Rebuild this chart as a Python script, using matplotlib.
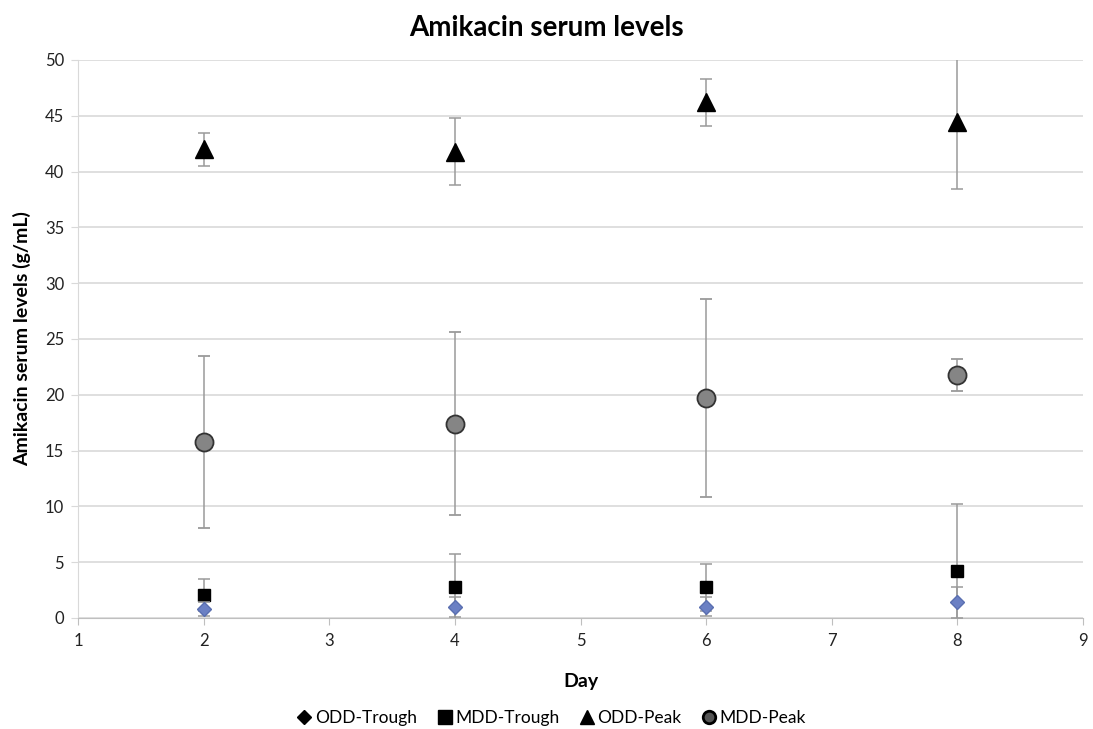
import matplotlib.pyplot as plt
from matplotlib.lines import Line2D

plt.rcParams['font.family'] = ['Lato', 'DejaVu Sans']

# Data
days = [2, 4, 6, 8]

odd_trough = [0.8, 0.95, 1.0, 1.4]
odd_trough_err = [0.6, 0.9, 0.85, 1.4]

mdd_trough = [2.05, 2.75, 2.75, 4.2]
mdd_trough_err = [1.45, 3.0, 2.1, 6.0]

odd_peak = [42.0, 41.8, 46.2, 44.4]
odd_peak_err = [1.5, 3.0, 2.1, 6.0]

mdd_peak = [15.8, 17.4, 19.7, 21.8]
mdd_peak_err = [7.7, 8.2, 8.9, 1.45]

labels = ['ODD-Trough', 'MDD-Trough', 'ODD-Peak', 'MDD-Peak']

fig = plt.figure(figsize=(10.93, 7.29), dpi=100)
ax = fig.add_axes([0.0714, 0.1523, 0.9195, 0.7654])

err_kw = dict(ecolor='#9a9a9a', elinewidth=1.1, capsize=4, capthick=1.1, linestyle='none')

ax.errorbar(days, mdd_peak, yerr=mdd_peak_err, marker='o', markersize=13,
            markerfacecolor='#858585', markeredgecolor='#333333', markeredgewidth=1.3,
            zorder=3, **err_kw)
ax.errorbar(days, odd_peak, yerr=odd_peak_err, marker='^', markersize=13,
            color='black', zorder=3, **err_kw)
ax.errorbar(days, mdd_trough, yerr=mdd_trough_err, marker='s', markersize=9,
            color='black', zorder=3, **err_kw)
ax.errorbar(days, odd_trough, yerr=odd_trough_err, marker='D', markersize=7,
            markerfacecolor='#6b80c4', markeredgecolor='#5a6fb0', zorder=4, **err_kw)

ax.set_xlim(1, 9)
ax.set_ylim(0, 50)
ax.set_xticks(range(1, 10))
ax.set_yticks(range(0, 51, 5))
ax.yaxis.grid(True, color='#d9d9d9', linewidth=1.2)
ax.set_axisbelow(True)

for s in ['top', 'right']:
    ax.spines[s].set_visible(False)
ax.spines['left'].set_color('#d9d9d9')
ax.spines['bottom'].set_color('#bfbfbf')
ax.tick_params(axis='y', length=5, color='#d9d9d9', labelsize=12, pad=5,
               labelcolor='#222222')
ax.tick_params(axis='x', length=5, color='#bfbfbf', labelsize=12, pad=6,
               labelcolor='#222222')

fig.text(0.5, 1 - 28 / 729, 'Amikacin serum levels', fontsize=20, fontweight='bold',
         ha='center', va='center')
ax.set_xlabel('Day', fontsize=14, fontweight='bold', labelpad=17)
ax.set_ylabel('Amikacin serum levels (g/mL)', fontsize=14, fontweight='bold', labelpad=10)

handles = [
    Line2D([], [], marker='D', color='black', linestyle='none', markersize=7),
    Line2D([], [], marker='s', color='black', linestyle='none', markersize=10),
    Line2D([], [], marker='^', color='black', linestyle='none', markersize=10),
    Line2D([], [], marker='o', markerfacecolor='#555555', markeredgecolor='black',
           markeredgewidth=2, linestyle='none', markersize=9),
]
fig.legend(handles, labels, loc='lower center', bbox_to_anchor=(0.504, -0.018), ncol=4,
           frameon=False, fontsize=12.5, handletextpad=0.1, columnspacing=1.1,
           handlelength=1.0)

fig.savefig('out.png', dpi=100)
